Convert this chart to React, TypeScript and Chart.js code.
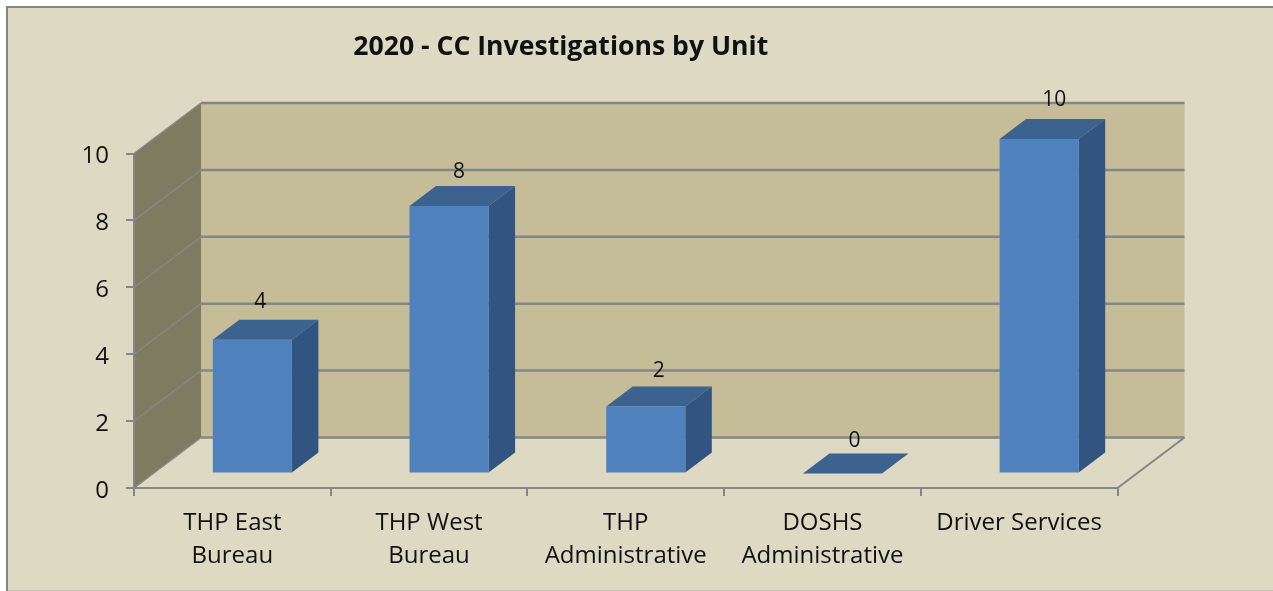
import React, { useEffect, useRef } from "react";
import { Chart, registerables } from "chart.js";

Chart.register(...registerables);

const titleText = "2020 - CC Investigations by Unit";
const categories = [
  ["THP East", "Bureau"],
  ["THP West", "Bureau"],
  ["THP", "Administrative"],
  ["DOSHS", "Administrative"],
  ["Driver Services"],
];
const investigations = [4, 8, 2, 0, 10];
const yTicks = [0, 2, 4, 6, 8, 10];

const FONT = '"Open Sans"';
const INK = "#111111";
const LINE = "#868686";
const PANEL = "#DDD9C3";
const BACK_WALL = "#C4BD97";
const SIDE_WALL = "#7F7B60";
const BAR_FRONT = "#4F81BD";
const BAR_SIDE = "#325480";
const BAR_TOP = "#3C628F";

// 3D projection
const WALL_DX = 67;
const WALL_DY = -50.5;
const BAR_SHIFT_X = 20;
const BAR_SHIFT_Y = -14.5;
const BAR_DX = 26.5;
const BAR_DY = -20;
// value-label placement relative to the bar
const LABEL_DX = 11;
const LABEL_DY = -37;
const LABEL_NUDGE_X = [-3, -1, 2, 1, 4];
const LABEL_NUDGE_Y = [-1, 3, 1, 5, -2];

function poly(ctx: CanvasRenderingContext2D, pts: number[][], fill: string) {
  ctx.beginPath();
  pts.forEach(([x, y], i) => (i ? ctx.lineTo(x, y) : ctx.moveTo(x, y)));
  ctx.closePath();
  ctx.fillStyle = fill;
  ctx.fill();
}

function seg(ctx: CanvasRenderingContext2D, x1: number, y1: number, x2: number, y2: number, w: number) {
  ctx.beginPath();
  ctx.moveTo(x1, y1);
  ctx.lineTo(x2, y2);
  ctx.strokeStyle = LINE;
  ctx.lineWidth = w;
  ctx.stroke();
}

const frame3d = {
  id: "frame3d",
  beforeDraw(chart: any) {
    const { ctx, width, height, chartArea: a, scales } = chart;
    const y = scales.y;
    ctx.save();
    ctx.fillStyle = "#ffffff";
    ctx.fillRect(0, 0, width, height);
    ctx.fillStyle = PANEL;
    ctx.fillRect(7, 7, width, height - 8);
    ctx.strokeStyle = LINE;
    ctx.lineWidth = 2;
    ctx.beginPath();
    ctx.moveTo(7, height);
    ctx.lineTo(7, 7);
    ctx.lineTo(width, 7);
    ctx.stroke();
    ctx.fillStyle = "#C9C7B4";
    ctx.fillRect(8, height - 1, width, 1);

    const top = y.getPixelForValue(10);
    const bottom = y.getPixelForValue(0);
    poly(ctx, [[a.left + WALL_DX, top + WALL_DY], [a.right + WALL_DX, top + WALL_DY], [a.right + WALL_DX, bottom + WALL_DY], [a.left + WALL_DX, bottom + WALL_DY]], BACK_WALL);
    poly(ctx, [[a.left, top], [a.left + WALL_DX, top + WALL_DY], [a.left + WALL_DX, bottom + WALL_DY], [a.left, bottom]], SIDE_WALL);

    yTicks.forEach((v) => {
      const py = y.getPixelForValue(v);
      seg(ctx, a.left, py, a.left + WALL_DX, py + WALL_DY, 1.5);
      seg(ctx, a.left + WALL_DX, py + WALL_DY, a.right + WALL_DX, py + WALL_DY, 2.5);
    });
    seg(ctx, a.right, bottom, a.right + WALL_DX, bottom + WALL_DY, 2);
    ctx.restore();
  },
  beforeDatasetsDraw(chart: any) {
    const { ctx } = chart;
    const meta = chart.getDatasetMeta(0);
    meta.data.forEach((bar: any) => {
      const l = bar.x - bar.width / 2 + BAR_SHIFT_X;
      const r = bar.x + bar.width / 2 + BAR_SHIFT_X;
      const t = bar.y + BAR_SHIFT_Y;
      const b = bar.base + BAR_SHIFT_Y;
      poly(ctx, [[r, t], [r + BAR_DX, t + BAR_DY], [r + BAR_DX, b + BAR_DY], [r, b]], BAR_SIDE);
      poly(ctx, [[l, t], [l + BAR_DX, t + BAR_DY], [r + BAR_DX, t + BAR_DY], [r, t]], BAR_TOP);
    });
    ctx.save();
    ctx.translate(BAR_SHIFT_X, BAR_SHIFT_Y);
  },
  afterDatasetsDraw(chart: any) {
    const { ctx } = chart;
    ctx.restore();
    const meta = chart.getDatasetMeta(0);
    ctx.save();
    ctx.fillStyle = INK;
    ctx.font = `21px ${FONT}`;
    ctx.textAlign = "center";
    ctx.textBaseline = "middle";
    meta.data.forEach((bar: any, i: number) => {
      ctx.fillText(
        String(investigations[i]),
        bar.x + BAR_SHIFT_X + LABEL_DX + LABEL_NUDGE_X[i],
        bar.y + BAR_SHIFT_Y + LABEL_DY + LABEL_NUDGE_Y[i]
      );
    });
    ctx.restore();
  },
};

export default function App() {
  const ref = useRef<HTMLCanvasElement>(null);
  useEffect(() => {
    const chart = new Chart(ref.current as HTMLCanvasElement, {
      type: "bar",
      data: {
        labels: categories as any,
        datasets: [
          {
            label: "Investigations",
            data: investigations,
            backgroundColor: BAR_FRONT,
            borderWidth: 0,
            barPercentage: 1,
            categoryPercentage: 0.402,
            clip: false as any,
          },
        ],
      },
      options: {
        responsive: false,
        animation: false,
        layout: { padding: { left: 4, top: 31, right: 155.5, bottom: 0 } },
        plugins: {
          legend: { display: false },
          tooltip: { enabled: false },
          title: {
            display: true,
            text: titleText,
            color: INK,
            font: { family: FONT, size: 26.6, weight: "bold", lineHeight: "32px" },
            padding: { top: 0, bottom: 90.5 },
          },
        },
        scales: {
          x: {
            afterFit(s: any) {
              s.height = 103;
            },
            grid: { display: true, drawOnChartArea: false, color: LINE, lineWidth: 2, tickLength: 8, offset: true },
            border: { color: LINE, width: 2 },
            ticks: {
              color: INK,
              font: { family: FONT, size: 24, lineHeight: 1.375 },
              padding: 11,
              maxRotation: 0,
              autoSkip: false,
            },
          },
          y: {
            min: 0,
            max: 10,
            afterFit(s: any) {
              s.width = 130;
            },
            afterBuildTicks(s: any) {
              s.ticks = yTicks.map((value) => ({ value }));
            },
            grid: { display: true, drawOnChartArea: false, color: LINE, lineWidth: 2, tickLength: 8 },
            border: { color: LINE, width: 2 },
            ticks: {
              color: INK,
              font: { family: FONT, size: 24 },
              padding: 17,
              labelOffset: 3,
            },
          },
        },
      },
      plugins: [frame3d],
    } as any);
    return () => chart.destroy();
  }, []);
  return (
    <canvas
      ref={ref}
      width={1273}
      height={591}
      style={{ position: "absolute", left: 0, top: 0, display: "block" }}
    />
  );
}
